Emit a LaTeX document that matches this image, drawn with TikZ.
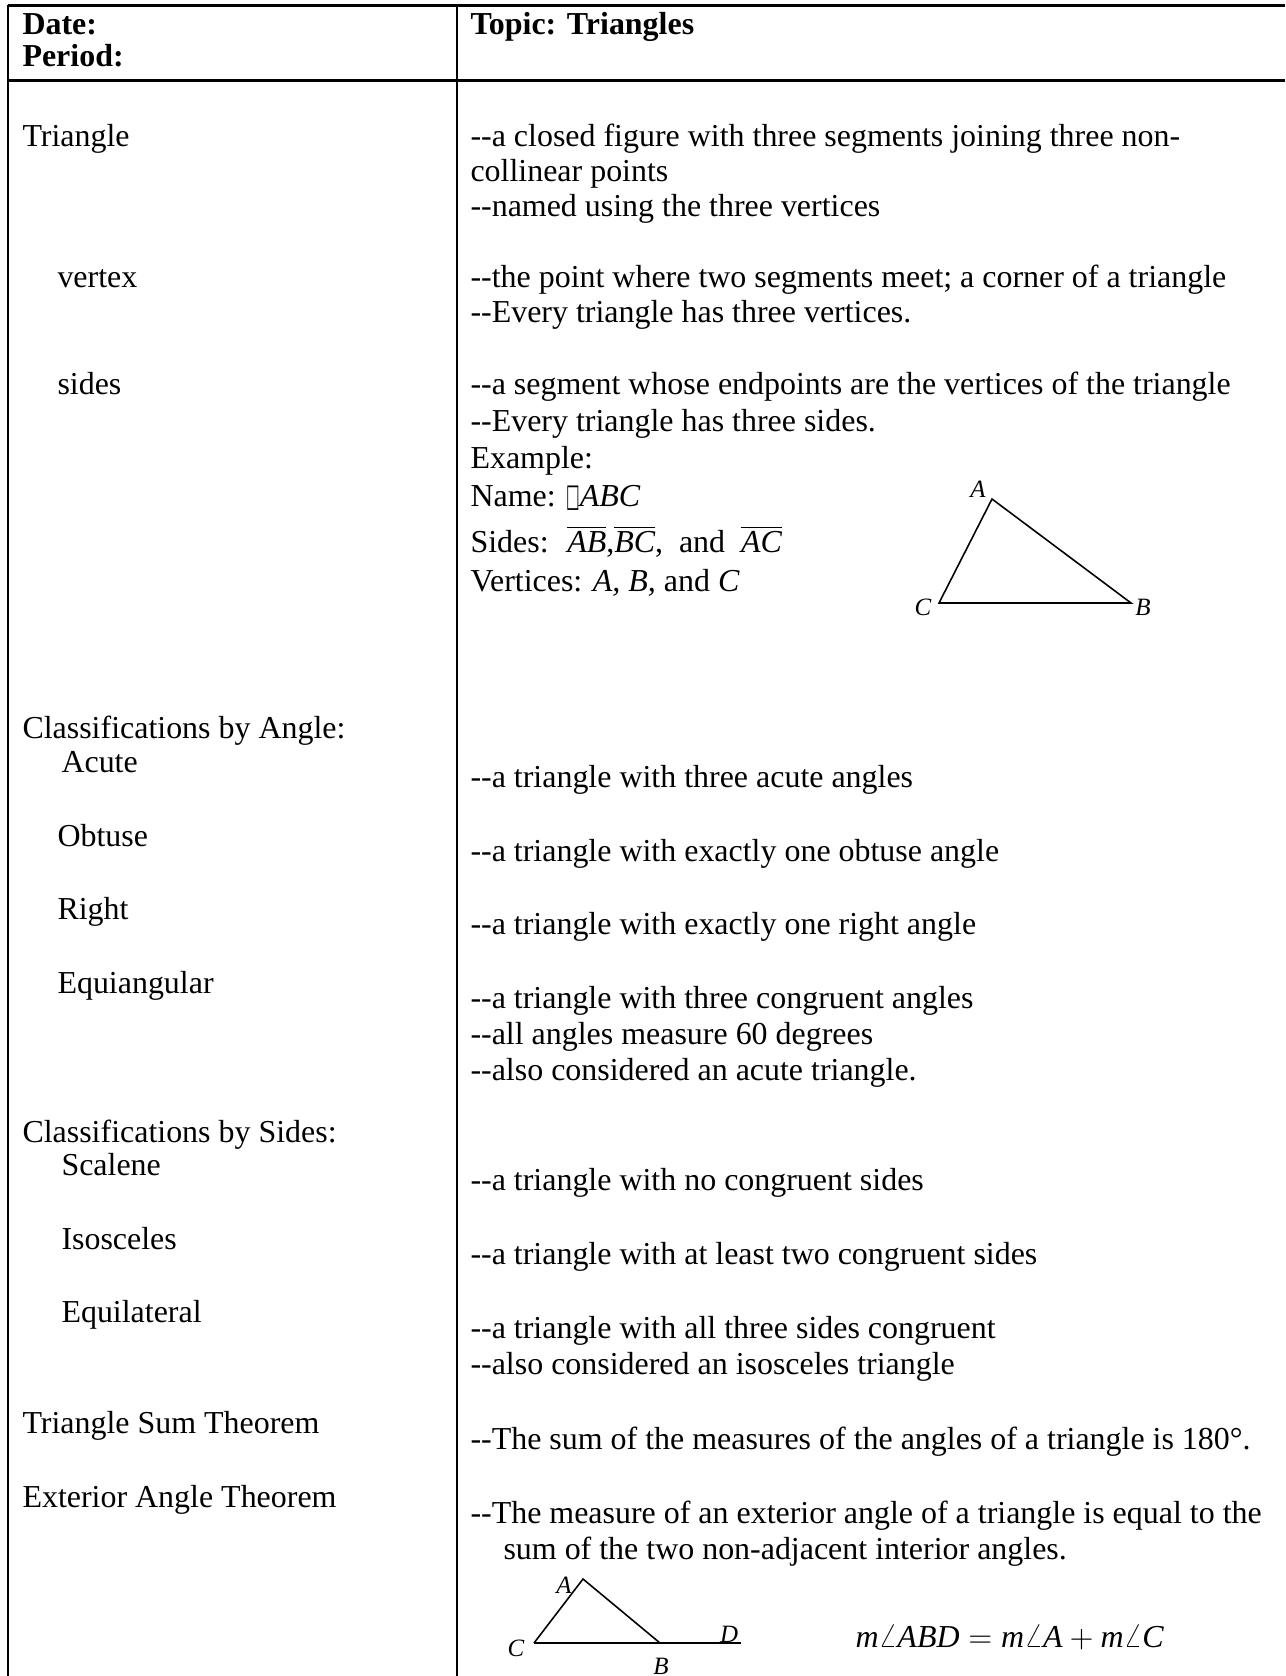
\documentclass[tikz,border=0pt]{standalone}
\usepackage{fontspec}
\setmainfont{Liberation Serif}[Ligatures=TeXOff]
\newfontfamily\boxfont{DejaVu Sans}
\usepackage{amsmath}

\begin{document}
\begin{tikzpicture}[x=0.381pt, y=-0.381pt,
    txt/.style={anchor=base west, inner sep=0pt, font=\fontsize{12.17}{14}\selectfont},
    hd/.style={txt, font=\fontsize{12.17}{14}\selectfont\bfseries},
    lbl/.style={inner sep=0pt, font=\fontsize{9.5}{11}\selectfont\itshape}]
    % 画布
    \useasboundingbox (0,0) rectangle (1285,1676);

    % 表格线
    \coordinate (TL) at (8,5.5);
    \coordinate (TR) at (1285,5.5);
    \coordinate (HL) at (8,80.5);
    \coordinate (HR) at (1285,80.5);
    \coordinate (ML) at (457,5.5);
    \draw[line width=0.8pt] (TL) -- (TR);
    \draw[line width=0.8pt] (HL) -- (HR);
    \draw[line width=0.8pt] (TL) -- (8,1676);
    \draw[line width=0.8pt] (ML) -- (457,1676);

    % 表头
    \node[hd] (date) at (22,35) {Date:};
    \node[hd] (period) at (22,67) {Period:};
    \node[hd] (topic) at (470,35) {Topic: Triangles};

    % 左栏
    \node[txt] (triangle) at (22,147) {Triangle};
    \node[txt] (vertex) at (57,288) {vertex};
    \node[txt] (sides) at (57,395) {sides};
    \node[txt] (byangle) at (22,738) {Classifications by Angle:};
    \node[txt] (acute) at (61,772) {Acute};
    \node[txt] (obtuse) at (57,846) {Obtuse};
    \node[txt] (right) at (57,919) {Right};
    \node[txt] (equiang) at (57,993) {Equiangular};
    \node[txt] (bysides) at (22,1142) {Classifications by Sides:};
    \node[txt] (scalene) at (61,1175) {Scalene};
    \node[txt] (isosc) at (61,1249) {Isosceles};
    \node[txt] (equilat) at (61,1322) {Equilateral};
    \node[txt] (sumthm) at (22,1433) {Triangle Sum Theorem};
    \node[txt] (extthm) at (22,1507) {Exterior Angle Theorem};

    % 右栏
    \node[txt] (triA) at (470,147) {--a closed figure with three segments joining three non-};
    \node[txt] (triB) at (470,182) {collinear points};
    \node[txt] (triC) at (470,217) {--named using the three vertices};
    \node[txt] (verA) at (470,288) {--the point where two segments meet; a corner of a triangle};
    \node[txt] (verB) at (470,323) {--Every triangle has three vertices.};
    \node[txt] (sidA) at (470,395) {--a segment whose endpoints are the vertices of the triangle};
    \node[txt] (sidB) at (470,432) {--Every triangle has three sides.};
    \node[txt] (exA) at (470,469) {Example:};
    \node[txt] (exB) at (470,507) {Name: \scalebox{0.45}[1]{\boxfont □}\textit{ABC}};
    \node[txt] (exC) at (470,553) {Sides: \ $\overline{\textit{AB}}$,$\overline{\textit{BC}}$, \ and \ $\overline{\textit{AC}}$};
    \node[txt] (exD) at (470,592) {Vertices: \textit{A, B,} and \textit{C}};
    \node[txt] (acuA) at (470,787) {--a triangle with three acute angles};
    \node[txt] (obtA) at (470,861) {--a triangle with exactly one obtuse angle};
    \node[txt] (rigA) at (470,934) {--a triangle with exactly one right angle};
    \node[txt] (eqaA) at (470,1008) {--a triangle with three congruent angles};
    \node[txt] (eqaB) at (470,1044) {--all angles measure 60 degrees};
    \node[txt] (eqaC) at (470,1080) {--also considered an acute triangle.};
    \node[txt] (scaA) at (470,1190) {--a triangle with no congruent sides};
    \node[txt] (isoA) at (470,1264) {--a triangle with at least two congruent sides};
    \node[txt] (eqlA) at (470,1338) {--a triangle with all three sides congruent};
    \node[txt] (eqlB) at (470,1374) {--also considered an isosceles triangle};
    \node[txt] (sumA) at (470,1449) {--The sum of the measures of the angles of a triangle is 180°.};
    \node[txt] (extA) at (470,1523) {--The measure of an exterior angle of a triangle is equal to the};
    \node[txt] (extB) at (503,1559) {sum of the two non-adjacent interior angles.};

    % 例题三角形
    \coordinate (A) at (992,499);
    \coordinate (B) at (1131,603);
    \coordinate (C) at (939,603);
    \draw[line width=0.6pt] (A) -- (B) -- (C) -- cycle;
    \node[lbl] (labA) at (978,489) {A};
    \node[lbl] (labB) at (1143,607) {B};
    \node[lbl] (labC) at (923,607) {C};

    % 外角三角形
    \coordinate (A2) at (583,1579);
    \coordinate (B2) at (660,1643);
    \coordinate (C2) at (534,1643);
    \coordinate (D2) at (741,1643);
    \draw[line width=0.6pt] (C2) -- (A2) -- (B2);
    \draw[line width=0.6pt] (C2) -- (D2);
    \node[lbl] (labA2) at (564,1585) {A};
    \node[lbl] (labB2) at (661,1666) {B};
    \node[lbl] (labC2) at (516,1648) {C};
    \node[lbl] (labD2) at (729,1634) {D};

    % 外角公式
    \node[txt] (formula) at (855,1647) {$\textit{m}\angle\textit{ABD}=\textit{m}\angle\textit{A}+\textit{m}\angle\textit{C}$};
\end{tikzpicture}
\end{document}
